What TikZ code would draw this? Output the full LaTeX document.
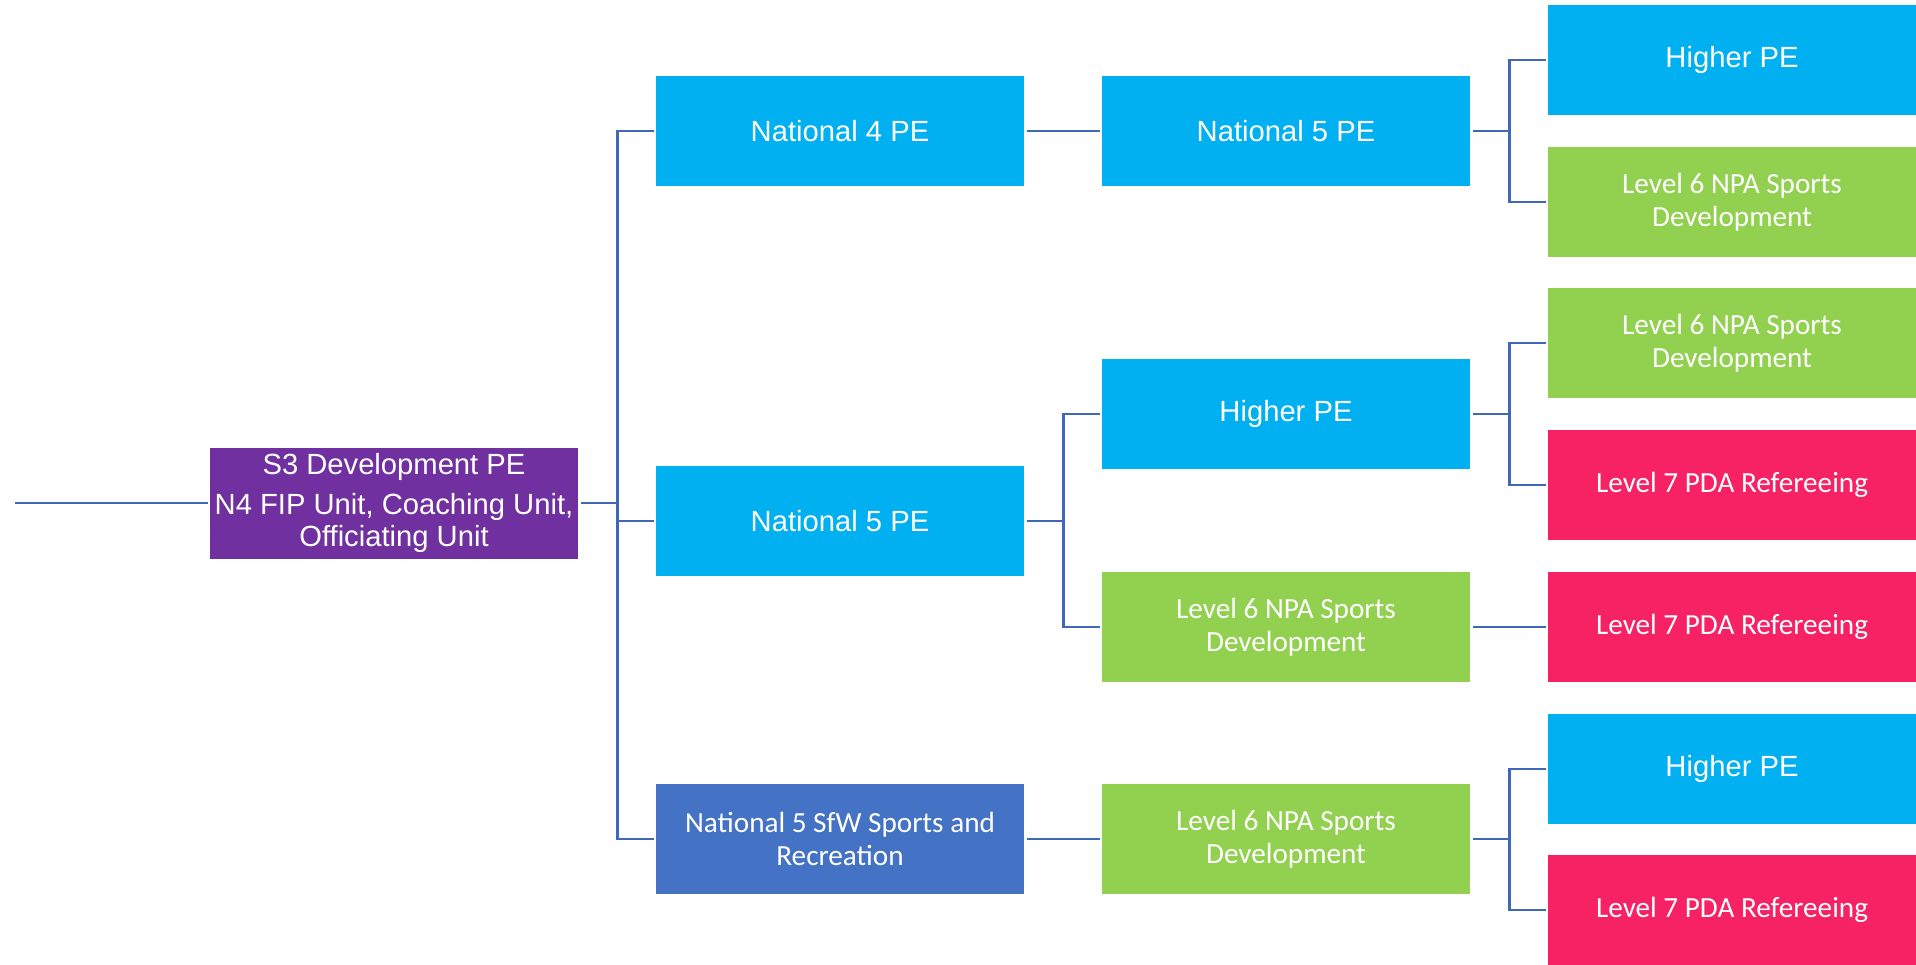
\documentclass[tikz,border=0pt]{standalone}
\usepackage{fontspec}
\setmainfont{Liberation Sans}
\newfontfamily\calibri{Carlito}
\definecolor{pecyan}{RGB}{0,176,240}
\definecolor{pegreen}{RGB}{146,208,80}
\definecolor{pepink}{RGB}{246,34,100}
\definecolor{pepurple}{RGB}{112,48,160}
\definecolor{peblue}{RGB}{68,114,196}
\definecolor{linkblue}{RGB}{64,104,182}
\begin{document}
\begin{tikzpicture}[x=0.5pt, y=-0.5pt,
  box/.style={rectangle, minimum width=184pt, minimum height=55pt, inner sep=2pt,
    align=center, text=white, font=\fontsize{14.6}{16.5}\selectfont},
  cyanbox/.style={box, fill=pecyan},
  greenbox/.style={box, fill=pegreen, font=\calibri\fontsize{14.6}{16.5}\selectfont},
  pinkbox/.style={box, fill=pepink, font=\calibri\fontsize{14.6}{16.5}\selectfont},
  bluebox/.style={box, fill=peblue, font=\calibri\fontsize{14.6}{16.5}\selectfont},
  rootbox/.style={box, fill=pepurple, minimum height=55.5pt, font=\fontsize{14.6}{16}\selectfont},
  link/.style={draw=linkblue, line width=1.2pt, shorten <=1.5pt, shorten >=1pt}]
\useasboundingbox (0,0) rectangle (1916,964);
% start
\coordinate (in) at (12,503);
\node[rootbox] (s3) at (394,503) {S3 Development PE\\[4pt]N4 FIP Unit, Coaching Unit,\\Officiating Unit};
% first column
\node[cyanbox] (n4) at (840,131) {National 4 PE};
\node[cyanbox] (n5) at (840,521) {National 5 PE};
\node[bluebox] (sfw) at (840,839) {National 5 SfW Sports and\\Recreation};
% second column
\node[cyanbox] (n5b) at (1286,131) {National 5 PE};
\node[cyanbox] (hpe) at (1286,414) {Higher PE};
\node[greenbox] (npa) at (1286,627) {Level 6 NPA Sports\\Development};
\node[greenbox] (npab) at (1286,839) {Level 6 NPA Sports\\Development};
% third column
\node[cyanbox] (h1) at (1732,60) {Higher PE};
\node[greenbox] (n1) at (1732,202) {Level 6 NPA Sports\\Development};
\node[greenbox] (n2) at (1732,343) {Level 6 NPA Sports\\Development};
\node[pinkbox] (r1) at (1732,485) {Level 7 PDA Refereeing};
\node[pinkbox] (r2) at (1732,627) {Level 7 PDA Refereeing};
\node[cyanbox] (h2) at (1732,769) {Higher PE};
\node[pinkbox] (r3) at (1732,910) {Level 7 PDA Refereeing};
% links
\draw[link] (in) -- (s3.west);
\draw[link] (s3.east) -- ++(39,0) |- (n4.west);
\draw[link] (s3.east) -- ++(39,0) |- (n5.west);
\draw[link] (s3.east) -- ++(39,0) |- (sfw.west);
\draw[link] (n4) -- (n5b);
\draw[link] (n5.east) -- ++(39,0) |- (hpe.west);
\draw[link] (n5.east) -- ++(39,0) |- (npa.west);
\draw[link] (sfw) -- (npab);
\draw[link] (n5b.east) -- ++(39,0) |- (h1.west);
\draw[link] (n5b.east) -- ++(39,0) |- (n1.west);
\draw[link] (hpe.east) -- ++(39,0) |- (n2.west);
\draw[link] (hpe.east) -- ++(39,0) |- (r1.west);
\draw[link] (npa) -- (r2);
\draw[link] (npab.east) -- ++(39,0) |- (h2.west);
\draw[link] (npab.east) -- ++(39,0) |- (r3.west);
\end{tikzpicture}
\end{document}
